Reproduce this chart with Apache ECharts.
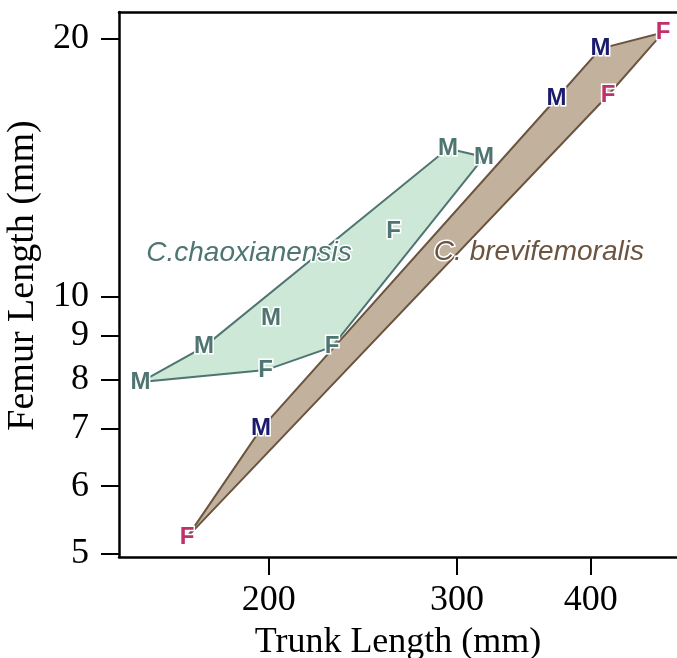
<!DOCTYPE html>
<html>
<head>
<meta charset="utf-8">
<script src="https://cdn.jsdelivr.net/npm/echarts@6/dist/echarts.min.js"></script>
<style>
  html, body { margin: 0; padding: 0; background: #fff; }
  #chart { width: 677px; height: 658px; }
</style>
</head>
<body>
<div id="chart"></div>
<script>
// C. chaoxianensis specimens (trunk length, femur length, sex)
const chaoTrunk = [151.8, 174.0, 201.0, 294.2, 318.0, 198.7, 229.2, 261.7];
const chaoFemur = [7.94, 8.73, 9.43, 14.89, 14.56, 8.20, 8.73, 11.93];
const chaoSex = ["M", "M", "M", "M", "M", "F", "F", "F"];
// hull order (indices into the arrays above)
const chaoHull = [0, 1, 3, 4, 6, 5];

// C. brevifemoralis specimens
const breviTrunk = [167.8, 196.7, 371.6, 408.6, 467.4, 415.2];
const breviFemur = [5.23, 7.00, 17.04, 19.49, 20.35, 17.19];
const breviSex = ["F", "M", "M", "M", "F", "F"];
const breviHull = [0, 1, 2, 3, 4, 5];

const xTicks = [200, 300, 400];
const yTicks = [5, 6, 7, 8, 9, 10, 20];

const speciesNames = ["C.chaoxianensis", "C. brevifemoralis"];
const speciesX = [191.7, 357.8];
const speciesY = [11.23, 11.26];

const chaoLine = "#4f7572";
const chaoFill = "#cde8d6";
const breviLine = "#6b5540";
const breviFill = "#c2b19d";
const maleBrevi = "#1b1a6b";
const femaleBrevi = "#c0306a";

const chart = echarts.init(document.getElementById("chart"));

function hullSeries(trunk, femur, hull, fill, stroke) {
  return {
    type: "custom",
    coordinateSystem: "cartesian2d",
    silent: true,
    data: hull.map(i => [trunk[i], femur[i]]),
    renderItem: (params, api) => {
      if (params.dataIndex !== 0) return null;
      const pts = hull.map(i => api.coord([trunk[i], femur[i]]));
      return {
        type: "polygon",
        shape: { points: pts },
        style: { fill: fill, stroke: stroke, lineWidth: 2 }
      };
    },
    z: 1
  };
}

function labelSeries(trunk, femur, sex, colorFn) {
  return {
    type: "scatter",
    symbolSize: 1,
    itemStyle: { color: "rgba(0,0,0,0)", opacity: 1 },
    silent: true,
    data: trunk.map((t, i) => ({
      value: [t, femur[i]],
      name: sex[i],
      label: { color: colorFn(sex[i]) }
    })),
    label: {
      show: true,
      position: "inside",
      formatter: "{b}",
      fontFamily: "Liberation Sans",
      fontWeight: "bold",
      fontSize: 24,
      textBorderColor: "#fff",
      textBorderWidth: 3
    },
    z: 5
  };
}

const option = {
  animation: false,
  grid: { left: 119, right: 0, top: 12, bottom: 101, containLabel: false, outerBoundsMode: "none" },
  xAxis: [{
    type: "log",
    min: 144.9,
    max: 481.7,
    name: "Trunk Length (mm)",
    nameLocation: "middle",
    nameGap: 68,
    nameTextStyle: { fontFamily: "Liberation Serif", fontSize: 36, color: "#000" },
    axisLine: { lineStyle: { color: "#000", width: 2.5 } },
    axisTick: { show: true, length: 18, lineStyle: { color: "#000", width: 2 }, customValues: xTicks },
    axisLabel: {
      customValues: xTicks,
      margin: 26,
      fontFamily: "Liberation Serif",
      fontSize: 36,
      color: "#000",
      formatter: v => String(Math.round(v))
    },
    splitLine: { show: false },
    minorTick: { show: false }
  }, {
    type: "log",
    position: "top",
    min: 144.9,
    max: 481.7,
    axisLine: { show: true, lineStyle: { color: "#000", width: 2.5 } },
    axisTick: { show: false },
    axisLabel: { show: false },
    splitLine: { show: false }
  }],
  yAxis: {
    type: "log",
    min: 4.957,
    max: 21.51,
    name: "Femur Length (mm)",
    nameLocation: "middle",
    nameGap: 70,
    nameTextStyle: { fontFamily: "Liberation Serif", fontSize: 38, color: "#000", padding: [0, 0, 0, 18] },
    axisLine: { lineStyle: { color: "#000", width: 2.5 } },
    axisTick: { show: true, length: 18, lineStyle: { color: "#000", width: 2 }, customValues: yTicks },
    axisLabel: {
      customValues: yTicks,
      margin: 30,
      fontFamily: "Liberation Serif",
      fontSize: 36,
      color: "#000",
      formatter: v => String(Math.round(v))
    },
    splitLine: { show: false }
  },
  series: [
    hullSeries(chaoTrunk, chaoFemur, chaoHull, chaoFill, chaoLine),
    hullSeries(breviTrunk, breviFemur, breviHull, breviFill, breviLine),
    labelSeries(chaoTrunk, chaoFemur, chaoSex, () => chaoLine),
    labelSeries(breviTrunk, breviFemur, breviSex, s => (s === "M" ? maleBrevi : femaleBrevi)),
    {
      type: "scatter",
      symbolSize: 1,
      itemStyle: { color: "rgba(0,0,0,0)", opacity: 1 },
      silent: true,
      data: speciesNames.map((n, i) => ({
        value: [speciesX[i], speciesY[i]],
        name: n,
        label: { color: i === 0 ? chaoLine : breviLine }
      })),
      label: {
        show: true,
        position: "inside",
        formatter: "{b}",
        fontFamily: "Liberation Sans",
        fontStyle: "italic",
        fontSize: 28,
        textBorderColor: "#fff",
        textBorderWidth: 3
      },
      z: 6
    }
  ]
};

chart.setOption(option);
</script>
</body>
</html>
